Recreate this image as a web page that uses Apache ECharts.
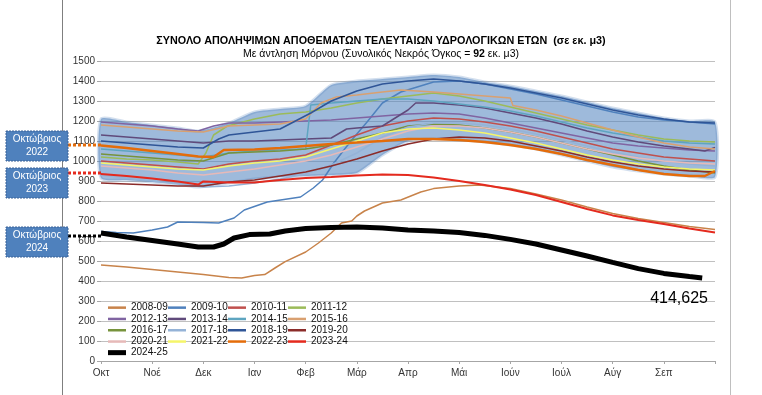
<!DOCTYPE html>
<html><head><meta charset="utf-8">
<script src="https://cdn.jsdelivr.net/npm/echarts@6/dist/echarts.min.js"></script>
<style>html,body{margin:0;padding:0;background:#fff;}#c{width:762px;height:395px;}</style>
</head><body><div id="c"></div>
<script>
const months = ['Οκτ','Νοέ','Δεκ','Ιαν','Φεβ','Μάρ','Απρ','Μάι','Ιούν','Ιούλ','Αύγ','Σεπ',''];
const yTicks = {min:0, max:1500, step:100};

// Band (envelope of past years)
const bandX    = [0,0.5,1,1.5,1.9,2.5,3,3.5,4,4.5,5,5.5,6,6.5,7,7.5,8,8.5,9,9.5,10,10.5,11,11.5,12];
const bandLow  = [915,905,895,885,870,890,910,920,925,930,940,1030,1100,1110,1105,1095,1080,1060,1030,1000,970,950,935,925,920];
const bandHigh = [1210,1195,1180,1165,1150,1190,1245,1260,1275,1380,1400,1410,1420,1430,1420,1395,1375,1350,1325,1295,1265,1240,1215,1200,1195];

const s0809 = [[0,480],[0.5,470],[1,458],[1.5,445],[2,432],[2.5,418],[2.75,415],[3,428],[3.2,432],[3.4,465],[3.6,497],[4,545],[4.25,590],[4.5,640],[4.7,690],[4.9,700],[5,725],[5.15,750],[5.5,790],[5.86,805],[6.25,845],[6.5,862],[7,875],[7.4,880],[8,862],[8.5,835],[9,805],[9.5,770],[10,738],[10.5,712],[11,692],[11.5,672],[12,658]];
const s0910 = [[0,648],[0.3,642],[0.63,640],[1,655],[1.3,670],[1.5,695],[2,692],[2.3,690],[2.6,715],[2.8,755],[3.25,795],[3.9,820],[4.15,865],[4.33,905],[4.55,990],[4.9,1105],[5.2,1195],[5.5,1290],[5.86,1345],[6.5,1395],[7,1400],[7.5,1385],[8,1360],[8.5,1335],[9,1305],[9.5,1275],[10,1245],[10.5,1220],[11,1205],[11.5,1195],[12,1185]];
const s1011 = [[0,1000],[0.5,990],[1,980],[1.5,970],[2,960],[2.5,985],[3,1000],[3.5,1010],[4,1030],[4.5,1080],[5,1130],[5.5,1175],[6,1200],[6.5,1215],[7,1210],[7.5,1195],[8,1175],[8.5,1150],[9,1120],[9.5,1090],[10,1060],[10.5,1040],[11,1020],[11.5,1010],[12,1000]];
const s1112 = [[0,1020],[0.5,1010],[1,1005],[1.5,995],[1.9,985],[2.05,1040],[2.2,1130],[2.47,1175],[3,1210],[3.5,1235],[4,1245],[4.5,1265],[5,1290],[5.5,1310],[6,1325],[6.5,1340],[7,1325],[7.5,1300],[8,1270],[8.5,1240],[9,1210],[9.5,1180],[10,1155],[10.5,1130],[11,1110],[11.5,1100],[12,1095]];
const s1213 = [[0,1195],[0.5,1185],[1,1175],[1.5,1160],[1.9,1150],[2.2,1175],[2.5,1190],[3,1190],[3.5,1195],[4,1200],[4.5,1205],[5,1215],[5.5,1225],[6,1235],[6.5,1240],[7,1235],[7.5,1215],[8,1190],[8.5,1165],[9,1140],[9.5,1115],[10,1090],[10.5,1075],[11,1065],[11.5,1055],[12,1050]];
const s1314 = [[0,1130],[0.5,1120],[1,1110],[1.5,1100],[2,1090],[2.5,1100],[3,1100],[3.5,1105],[4,1110],[4.5,1115],[4.8,1160],[5,1165],[5.5,1175],[6,1255],[6.15,1290],[6.5,1290],[7,1280],[7.5,1265],[8,1240],[8.5,1215],[9,1185],[9.5,1150],[10,1120],[10.5,1095],[11,1075],[11.5,1060],[11.8,1050],[12,1068]];
const s1415 = [[0,1060],[0.5,1050],[1,1040],[1.5,1030],[2,1020],[2.5,1040],[3,1050],[3.5,1055],[4,1060],[4.1,1280],[4.5,1290],[5,1300],[5.5,1310],[6,1310],[6.5,1300],[7,1285],[7.5,1270],[8,1250],[8.5,1225],[9,1195],[9.5,1165],[10,1140],[10.5,1120],[11,1100],[11.5,1090],[12,1085]];
const s1516 = [[0,1180],[0.5,1170],[1,1160],[1.5,1150],[2,1145],[2.5,1175],[3,1180],[3.5,1185],[4,1210],[4.3,1290],[4.6,1320],[5,1330],[5.5,1345],[5.86,1355],[6.5,1345],[7,1335],[7.5,1325],[8,1315],[8.05,1278],[8.5,1255],[9,1225],[9.5,1190],[10,1155],[10.5,1120],[11,1090],[11.5,1070],[12,1060]];
const s1617 = [[0,1035],[0.5,1025],[1,1015],[1.5,1005],[2,1000],[2.5,1040],[3,1045],[3.5,1050],[4,1060],[4.5,1080],[5,1110],[5.5,1140],[6,1175],[6.5,1185],[7,1180],[7.5,1165],[8,1145],[8.5,1120],[9,1090],[9.5,1060],[10,1030],[10.5,1000],[11,975],[11.5,955],[12,940]];
const s1718 = [[0,930],[0.5,915],[1,900],[1.5,885],[2,870],[2.5,875],[3,890],[3.5,910],[4,935],[4.5,980],[5,1040],[5.5,1120],[6,1170],[6.5,1190],[7,1190],[7.5,1180],[8,1160],[8.5,1135],[9,1105],[9.5,1075],[10,1045],[10.5,1020],[11,1000],[11.5,985],[12,975]];
const s1819 = [[0,1100],[0.5,1090],[1,1080],[1.5,1070],[2,1065],[2.3,1110],[2.5,1130],[3,1145],[3.5,1160],[3.8,1200],[4.1,1240],[4.5,1300],[5,1350],[5.5,1385],[6,1400],[6.5,1410],[7,1400],[7.5,1385],[8,1365],[8.5,1340],[9,1315],[9.5,1285],[10,1255],[10.5,1230],[11,1210],[11.5,1195],[12,1190]];
const s1920 = [[0,890],[0.5,885],[1,880],[1.5,875],[2,875],[2.5,895],[3,905],[3.5,925],[4,945],[4.5,975],[5,1010],[5.5,1050],[6,1085],[6.5,1110],[7,1120],[7.5,1115],[8,1100],[8.5,1075],[9,1050],[9.5,1020],[10,995],[10.5,975],[11,960],[11.5,950],[12,945]];
const s2021 = [[0,975],[0.5,965],[1,955],[1.5,940],[2,930],[2.5,945],[3,960],[3.5,980],[4,1000],[4.5,1030],[5,1070],[5.5,1110],[6,1150],[6.5,1175],[7,1175],[7.5,1165],[8,1145],[8.5,1120],[9,1090],[9.5,1060],[10,1035],[10.5,1015],[11,1000],[11.5,990],[12,985]];
const s2122 = [[0,990],[0.5,980],[1,970],[1.5,960],[2,955],[2.5,975],[3,990],[3.5,1000],[4,1020],[4.5,1060],[5,1100],[5.5,1140],[6,1160],[6.5,1165],[7,1155],[7.5,1140],[8,1115],[8.5,1090],[9,1060],[9.5,1030],[10,1005],[10.5,985],[11,970],[11.5,960],[12,955]];
const s2223 = [[0,1078],[0.5,1065],[1,1050],[1.5,1035],[1.9,1022],[2.2,1020],[2.4,1055],[3,1058],[3.5,1065],[4,1075],[4.5,1085],[5,1092],[5.5,1100],[6,1110],[6.5,1110],[7,1105],[7.5,1095],[8,1080],[8.5,1060],[9,1035],[9.5,1005],[10,980],[10.5,955],[11,935],[11.5,925],[11.8,925],[12,950]];
const s2324 = [[0,935],[0.5,925],[1,912],[1.5,897],[1.9,882],[2,898],[2.5,893],[3,892],[3.5,905],[4,915],[4.5,920],[5,928],[5.5,932],[6,930],[6.5,918],[7,900],[7.5,880],[8,858],[8.5,830],[9,795],[9.5,760],[10,728],[10.5,705],[11,685],[11.5,662],[12,643]];
const s2425 = [[0,640],[0.5,620],[1,603],[1.5,585],[1.9,570],[2.2,570],[2.4,585],[2.6,615],[2.9,632],[3.3,635],[3.6,650],[4,662],[4.5,668],[5,670],[5.5,665],[6,655],[6.5,650],[7,643],[7.5,628],[8,608],[8.5,585],[9,555],[9.5,525],[10,493],[10.5,462],[11,438],[11.5,422],[11.75,415]];

const seriesNames  = ['2008-09','2009-10','2010-11','2011-12','2012-13','2013-14','2014-15','2015-16','2016-17','2017-18','2018-19','2019-20','2020-21','2021-22','2022-23','2023-24','2024-25'];
const seriesData   = [s0809,s0910,s1011,s1112,s1213,s1314,s1415,s1516,s1617,s1718,s1819,s1920,s2021,s2122,s2223,s2324,s2425];
const seriesColors = ['#c8834a','#4f81bd','#c0504d','#9bbb59','#8064a2','#604a7b','#5ea5c0','#d9a070','#77933c','#95b3d7','#2f5597','#8b2c2a','#e6b9b8','#f5f56a','#e46c0a','#e42a1e','#000000'];
const seriesWidths = [1.5,1.5,1.5,1.5,1.5,1.5,1.5,1.5,1.5,1.5,1.5,1.5,1.5,1.5,2.5,2,5];

const lastValueLabel = '414,625';
const annoValues = [1080, 940, 625];
const annoYears  = ['2022','2023','2024'];
const annoColors = ['#e46c0a','#e42a1e','#000000'];

const chart = echarts.init(document.getElementById('c'));
const FONT = 'Liberation Sans';

const series = [
  {name:'band', type:'custom', silent:true, z:1, data:[[0,0]],
   renderItem:(params, api)=>{
     const pts = [];
     for (let i=0;i<bandX.length;i++) pts.push(api.coord([bandX[i], bandHigh[i]]));
     for (let i=bandX.length-1;i>=0;i--) pts.push(api.coord([bandX[i], bandLow[i]]));
     return {type:'polygon', shape:{points:pts, smooth:0.2}, style:{fill:'rgba(79,129,189,0.55)', stroke:'rgba(79,129,189,0.25)', lineWidth:3}};
   }}
];
seriesNames.forEach((n,i)=>{
  series.push({name:n, type:'line', symbol:'none', showSymbol:false, data:seriesData[i],
    lineStyle:{color:seriesColors[i], width:seriesWidths[i]}, itemStyle:{color:seriesColors[i]}, z:2+i});
});

const legendBase = {orient:'horizontal', itemWidth:18, itemGap:0, padding:0, icon:'rect',
    textStyle:{fontFamily:FONT, fontSize:10, color:'#111', width:37, lineHeight:11.3}};

chart.setOption({
  animation:false,
  backgroundColor:'#fff',
  grid:{left:101, right:47, top:61, bottom:34},
  xAxis:{type:'value', min:0, max:12, interval:1,
    axisLine:{lineStyle:{color:'#a6a6a6'}}, axisTick:{length:3, lineStyle:{color:'#a6a6a6'}},
    splitLine:{show:false},
    axisLabel:{formatter:v=>months[v]||'', color:'#333', fontFamily:FONT, fontSize:10, margin:7}},
  yAxis:{type:'value', min:yTicks.min, max:yTicks.max, interval:yTicks.step,
    axisLine:{show:false}, axisTick:{show:true, length:4, lineStyle:{color:'#a6a6a6'}},
    splitLine:{lineStyle:{color:'#c0c0c0', width:1}},
    axisLabel:{formatter:v=>String(v), color:'#333', fontFamily:FONT, fontSize:10, margin:6}},
  legend:[
    Object.assign({}, legendBase, {data:seriesNames.slice(0,16), left:108, top:302, width:245, itemHeight:2.5}),
    Object.assign({}, legendBase, {data:seriesNames.slice(16), left:108, top:347, itemHeight:5})
  ],
  series:series
});

const g = [];
g.push({type:'line', shape:{x1:62.5,y1:0,x2:62.5,y2:395}, style:{stroke:'#7f7f7f', lineWidth:1}});
g.push({type:'line', shape:{x1:730.5,y1:0,x2:730.5,y2:395}, style:{stroke:'#bfbfbf', lineWidth:1}});
g.push({type:'text', left:'center', top:36, style:{text:'ΣΥΝΟΛΟ ΑΠΟΛΗΨΙΜΩΝ ΑΠΟΘΕΜΑΤΩΝ ΤΕΛΕΥΤΑΙΩΝ ΥΔΡΟΛΟΓΙΚΩΝ ΕΤΩΝ  (σε εκ. μ3)', font:'bold 10.8px "Liberation Sans"', fill:'#000'}});
g.push({type:'text', left:'center', top:49, style:{text:'Με άντληση Μόρνου (Συνολικός Νεκρός Όγκος = {b|92} εκ. μ3)', font:'10.5px "Liberation Sans"', fill:'#000', rich:{b:{fontWeight:'bold', fontSize:10.5, fontFamily:FONT}}}});
g.push({type:'text', x:708, y:291, style:{text:lastValueLabel, font:'16px "Liberation Sans"', fill:'#000', textAlign:'right'}});
const boxTops = [131,168,227];
annoValues.forEach((v,i)=>{
  const py = chart.convertToPixel({yAxisIndex:0}, v);
  g.push({type:'line', shape:{x1:68,y1:py,x2:101,y2:py}, style:{stroke:annoColors[i], lineWidth:3, lineDash:[3,2]}, z:10});
  g.push({type:'rect', shape:{x:6,y:boxTops[i],width:62,height:30}, style:{fill:'#4f81bd', stroke:'#3a6298', lineWidth:1, lineDash:[2,1]}, z:11});
  g.push({type:'text', x:37, y:boxTops[i]+15, style:{text:'Οκτώβριος\n'+annoYears[i], font:'10px "Liberation Sans"', fill:'#fff', textAlign:'center', textVerticalAlign:'middle', lineHeight:13}, z:12});
});
chart.setOption({graphic:g});
</script>
</body></html>
